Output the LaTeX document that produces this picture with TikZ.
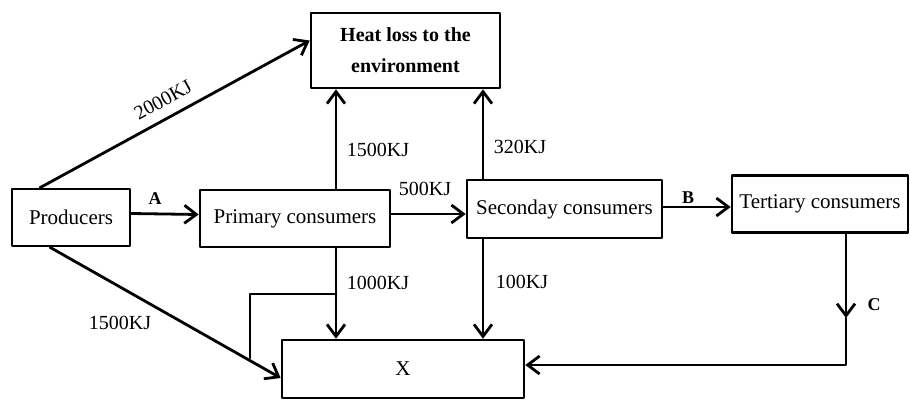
\documentclass[tikz,border=0pt]{standalone}
\usepackage{fontspec}
\setmainfont{Liberation Serif}
\usetikzlibrary{arrows.meta,calc,positioning}

\begin{document}
\begin{tikzpicture}[x=1pt,y=-1pt,>={Straight Barb[length=12pt,width=18pt]},line cap=round,line join=round]
\path[fill=white] (0,0) rectangle (910,400);
\tikzset{stage/.style={draw=black,line width=2.6pt,inner sep=2pt,font=\fontsize{21}{25}\selectfont},wire/.style={draw=black,line width=2.8pt},flow/.style={wire,->},lbl/.style={font=\fontsize{20}{24}\selectfont},tag/.style={font=\bfseries\fontsize{18}{21}\selectfont}}
% trophic levels
\node[stage,minimum width=189pt,minimum height=75pt,align=center,font=\bfseries\fontsize{20}{31}\selectfont] (heat) at (405.5,50.5) {Heat loss to the\\environment};
\node[stage,minimum width=118pt,minimum height=57pt] (prod) at (71,217.5) {Producers};
\node[stage,minimum width=190pt,minimum height=57pt] (prim) at (295,218.5) {Primary consumers};
\node[stage,minimum width=195pt,minimum height=58pt] (sec) at (564.5,209) {Seconday consumers};
\node[stage,minimum width=176pt,minimum height=57pt] (ter) at (820,204) {Tertiary consumers};
\node[stage,minimum width=242pt,minimum height=58pt] (x) at (403,369) {X};
% columns and bends
\coordinate (colP) at (336,0); \coordinate (colS) at (483,0); \coordinate (colT) at (846,0);
\coordinate (split) at (336,294); \coordinate (stub) at (250,358);
\coordinate (turn) at (846,365); \coordinate (cMid) at (846,318);
% flows
\draw[flow] ([xshift=-31pt]prod.north) -- ([yshift=10pt]heat.west);
\draw[flow] ([xshift=-21pt]prod.south) -- ([yshift=-9pt]x.west);
\draw[flow] ([yshift=4pt]prod.east) -- ([yshift=4pt]prim.west);
\draw[flow] (prim.east |- 0,214) -- (sec.west |- 0,214);
\draw[flow] (sec.east |- 0,207) -- (ter.west |- 0,207);
\draw[flow] (prim.north -| colP) -- (heat.south -| colP);
\draw[flow] (sec.north -| colS) -- (heat.south -| colS);
\draw[flow] (prim.south -| colP) -- (x.north -| colP);
\draw[flow] (sec.south -| colS) -- (x.north -| colS);
\draw[wire] (split) -| (stub);
\draw[flow] (ter.south -| colT) -- (cMid);
\draw[flow] (cMid) -- (turn) -- (x.east |- turn);
% labels
\node[lbl,rotate=29] (l2000) at (163,100) {2000KJ};
\node[lbl] (l1500a) at (378,150) {1500KJ};
\node[lbl] (l500) at (425,189) {500KJ};
\node[lbl] (l320) at (520,147) {320KJ};
\node[lbl] (l1000) at (378,283) {1000KJ};
\node[lbl] (l100) at (522,282) {100KJ};
\node[lbl] (l1500b) at (120,323) {1500KJ};
\node[tag] (tA) at (155,199) {A};
\node[tag] (tB) at (688,198) {B};
\node[tag] (tC) at (874,305) {C};
\end{tikzpicture}
\end{document}
